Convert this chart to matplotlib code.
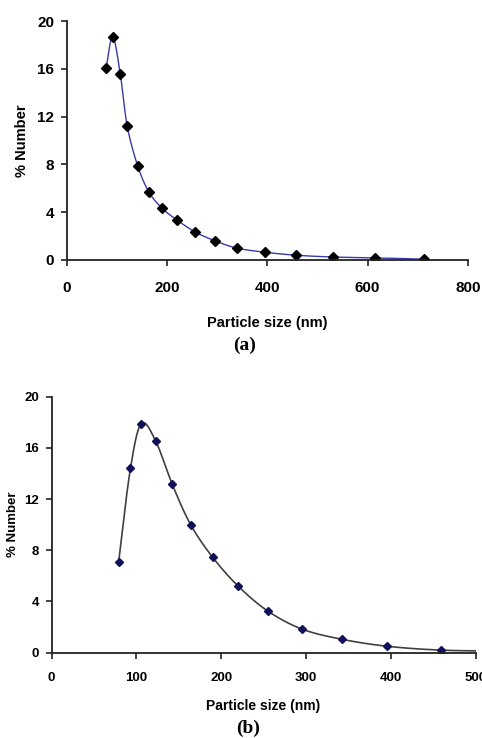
import numpy as np
import matplotlib
matplotlib.use('Agg')
import matplotlib.pyplot as plt

# panel (a) data
size_a = [79, 92, 107, 121, 142, 164, 190, 220, 256, 296, 339, 395, 458, 530, 615, 712]
number_a = [16.1, 18.7, 15.6, 11.2, 7.85, 5.7, 4.35, 3.35, 2.35, 1.6, 1.0, 0.65, 0.4, 0.25, 0.18, 0.07]

# panel (b) data (last point lies outside the 0-500 axis range)
size_b = [79, 93, 106, 123, 142, 164, 190, 220, 255, 295, 342, 396, 459, 531]
number_b = [7.05, 14.4, 17.9, 16.5, 13.2, 10.0, 7.45, 5.2, 3.25, 1.85, 1.05, 0.5, 0.2, 0.12]

ticks_a = [0, 200, 400, 600, 800]
ticks_b = [0, 100, 200, 300, 400, 500]
yticks = [0, 4, 8, 12, 16, 20]


def smooth(x, y, n=30):
    # Catmull-Rom curve through the points, like Excel's smoothed line
    x = np.asarray(x, float)
    y = np.asarray(y, float)
    px = np.concatenate([[2 * x[0] - x[1]], x, [2 * x[-1] - x[-2]]])
    py = np.concatenate([[2 * y[0] - y[1]], y, [2 * y[-1] - y[-2]]])
    xs, ys = [], []
    t = np.linspace(0, 1, n)
    for i in range(1, len(px) - 2):
        for p, out in ((px, xs), (py, ys)):
            p0, p1, p2, p3 = p[i - 1], p[i], p[i + 1], p[i + 2]
            out.extend(0.5 * ((2 * p1) + (-p0 + p2) * t
                              + (2 * p0 - 5 * p1 + 4 * p2 - p3) * t ** 2
                              + (-p0 + 3 * p1 - 3 * p2 + p3) * t ** 3))
    return xs, ys


def style(ax, fs, xpad):
    for s in ['top', 'right']:
        ax.spines[s].set_visible(False)
    for s in ['left', 'bottom']:
        ax.spines[s].set_linewidth(1.3)
        ax.spines[s].set_color('#222222')
    ax.tick_params(direction='out', length=4, width=1.2, color='#222222',
                   labelsize=fs, pad=5)
    ax.tick_params(axis='x', pad=xpad)
    for lab in ax.get_xticklabels() + ax.get_yticklabels():
        lab.set_fontweight('bold')


plt.rcParams['font.family'] = ['Liberation Sans', 'DejaVu Sans']

fig = plt.figure(figsize=(4.82, 7.38), dpi=100)

# (a)
ax1 = fig.add_axes([0.138, 0.6477, 0.833, 0.3238])
sx, sy = smooth(size_a, number_a)
ax1.plot(sx, sy, color='#3a3aa8', lw=1.0)
ax1.plot(size_a, number_a, ls='none', marker='D', ms=5.5, color='black')
ax1.set_xlim(0, 800)
ax1.set_ylim(0, 20)
ax1.set_xticks(ticks_a)
ax1.set_yticks(yticks)
style(ax1, 11, 11)
ax1.set_xlabel('Particle size (nm)', fontsize=10.5, fontweight='bold', labelpad=15)
ax1.set_ylabel('% Number', fontsize=10.5, fontweight='bold', labelpad=6)
fig.text(0.508, 1 - 345 / 738, '(a)', family=['Liberation Serif'], fontsize=14,
         fontweight='bold', ha='center', va='center')

# (b)
ax2 = fig.add_axes([0.107, 0.1156, 0.8797, 0.3469])
sx, sy = smooth(size_b, number_b)
ax2.plot(sx, sy, color='#404040', lw=1.2, clip_on=True)
ax2.plot(size_b, number_b, ls='none', marker='D', ms=4, color='#10105a')
ax2.set_xlim(0, 500)
ax2.set_ylim(0, 20)
ax2.set_xticks(ticks_b)
ax2.set_yticks(yticks)
style(ax2, 9.5, 10)
ax2.set_xlabel('Particle size (nm)', fontsize=10, fontweight='bold', labelpad=11)
ax2.set_ylabel('% Number', fontsize=9.5, fontweight='bold', labelpad=4)
fig.text(0.515, 1 - 728 / 738, '(b)', family=['Liberation Serif'], fontsize=14,
         fontweight='bold', ha='center', va='center')

fig.savefig('out.png', dpi=100)
